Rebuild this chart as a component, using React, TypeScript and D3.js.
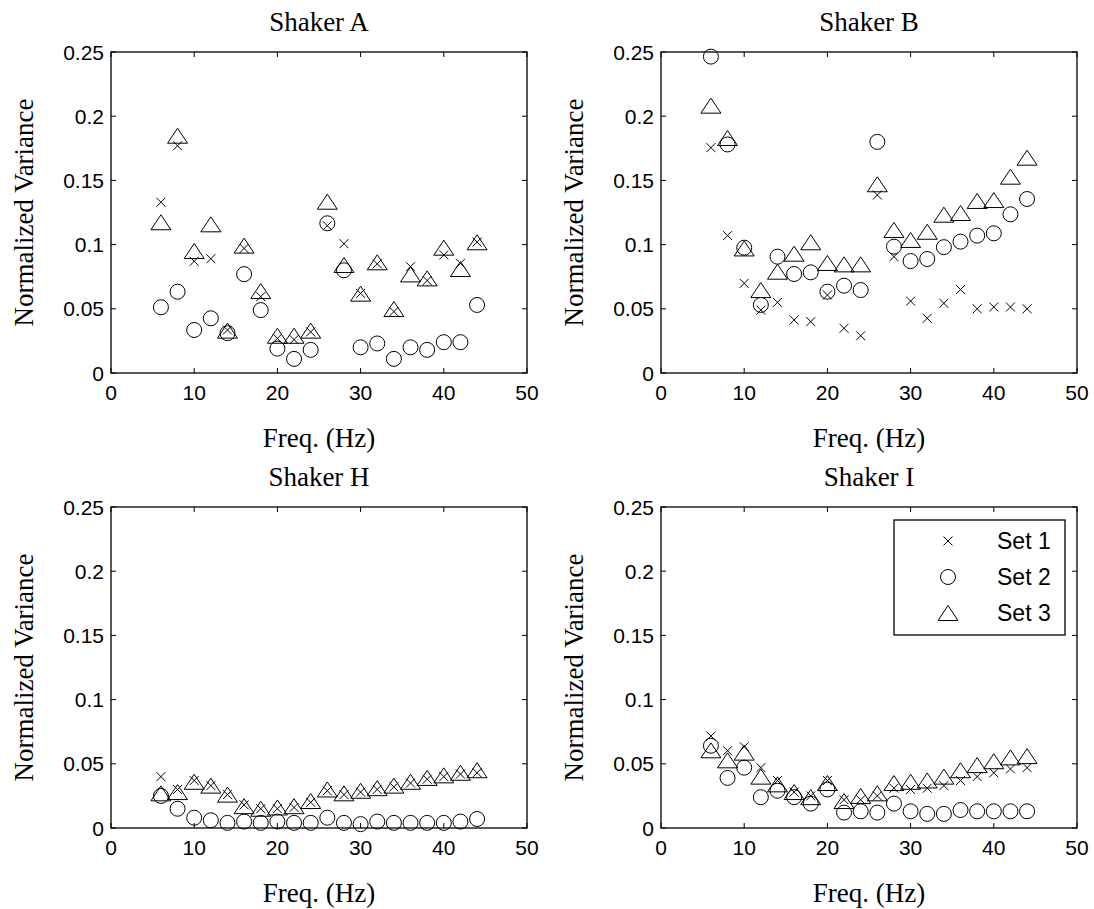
import React from "react";
import * as d3 from "d3";

const freqs = [6, 8, 10, 12, 14, 16, 18, 20, 22, 24, 26, 28, 30, 32, 34, 36, 38, 40, 42, 44];
const xTicks = [0, 10, 20, 30, 40, 50];
const yTicks = [0, 0.05, 0.1, 0.15, 0.2, 0.25];
const yTickLabels = ["0", "0.05", "0.1", "0.15", "0.2", "0.25"];
const seriesNames = ["Set 1", "Set 2", "Set 3"];

const aSet1 = [0.133, 0.177, 0.087, 0.089, 0.0335, 0.097, 0.0595, 0.027, 0.026, 0.032, 0.1147, 0.1007, 0.062, 0.085, 0.0478, 0.0828, 0.072, 0.0919, 0.0854, 0.102];
const aSet2 = [0.0512, 0.0633, 0.0335, 0.0426, 0.031, 0.077, 0.049, 0.019, 0.011, 0.018, 0.1166, 0.08, 0.02, 0.023, 0.011, 0.02, 0.018, 0.024, 0.024, 0.053];
const aSet3 = [0.1174, 0.1848, 0.095, 0.1158, 0.033, 0.0992, 0.0638, 0.029, 0.029, 0.033, 0.1334, 0.0841, 0.0618, 0.0862, 0.0498, 0.0768, 0.0737, 0.0976, 0.081, 0.1018];

const bSet1 = [0.1755, 0.107, 0.0698, 0.049, 0.055, 0.0413, 0.04, 0.0607, 0.0348, 0.029, 0.1386, 0.0906, 0.056, 0.0426, 0.0543, 0.065, 0.05, 0.0514, 0.0514, 0.05];
const bSet2 = [0.2464, 0.178, 0.0976, 0.053, 0.0906, 0.0771, 0.0784, 0.0633, 0.068, 0.0646, 0.18, 0.0984, 0.0872, 0.0888, 0.098, 0.1023, 0.107, 0.1088, 0.1236, 0.1355];
const bSet3 = [0.2082, 0.183, 0.097, 0.0646, 0.0789, 0.0929, 0.1018, 0.0857, 0.0846, 0.0846, 0.147, 0.1114, 0.1036, 0.11, 0.1233, 0.1246, 0.134, 0.1347, 0.1529, 0.1677];

const hSet1 = [0.04, 0.03, 0.037, 0.033, 0.026, 0.018, 0.015, 0.015, 0.016, 0.02, 0.029, 0.026, 0.028, 0.03, 0.032, 0.035, 0.038, 0.04, 0.042, 0.043];
const hSet2 = [0.025, 0.015, 0.008, 0.006, 0.004, 0.005, 0.004, 0.005, 0.004, 0.004, 0.008, 0.004, 0.003, 0.005, 0.004, 0.004, 0.004, 0.004, 0.005, 0.007];
const hSet3 = [0.027, 0.028, 0.036, 0.033, 0.026, 0.017, 0.015, 0.016, 0.017, 0.021, 0.03, 0.027, 0.029, 0.031, 0.033, 0.036, 0.039, 0.041, 0.043, 0.045];

const iSet1 = [0.0716, 0.0602, 0.0633, 0.047, 0.037, 0.028, 0.025, 0.037, 0.022, 0.022, 0.025, 0.031, 0.03, 0.031, 0.033, 0.037, 0.04, 0.043, 0.046, 0.047];
const iSet2 = [0.0641, 0.039, 0.047, 0.024, 0.029, 0.024, 0.019, 0.03, 0.012, 0.013, 0.012, 0.019, 0.013, 0.011, 0.011, 0.014, 0.013, 0.013, 0.013, 0.013];
const iSet3 = [0.0605, 0.0527, 0.0587, 0.04, 0.034, 0.028, 0.024, 0.035, 0.021, 0.025, 0.027, 0.035, 0.036, 0.037, 0.04, 0.045, 0.049, 0.052, 0.055, 0.056];

const panels = [
  { title: "Shaker A", s1: aSet1, s2: aSet2, s3: aSet3, legend: false },
  { title: "Shaker B", s1: bSet1, s2: bSet2, s3: bSet3, legend: false },
  { title: "Shaker H", s1: hSet1, s2: hSet2, s3: hSet3, legend: false },
  { title: "Shaker I", s1: iSet1, s2: iSet2, s3: iSet3, legend: true },
];

const W = 1094;
const H = 909;
const plotW = 416;
const plotH = 321;
const lefts = [111, 661];
const tops = [52, 507];
const serif = "'Liberation Serif', 'Times New Roman', serif";
const sans = "'Liberation Sans', Arial, sans-serif";

function XMark({ x, y }: { x: number; y: number }) {
  const s = 4.5;
  return (
    <path d={`M${x - s},${y - s}L${x + s},${y + s}M${x - s},${y + s}L${x + s},${y - s}`} stroke="#000" strokeWidth={1} fill="none" />
  );
}
function OMark({ x, y }: { x: number; y: number }) {
  return <circle cx={x} cy={y} r={7.5} stroke="#000" strokeWidth={1} fill="none" />;
}
function TMark({ x, y }: { x: number; y: number }) {
  const hw = 10;
  const hh = 7.5;
  return <path d={`M${x},${y - hh}L${x + hw},${y + hh}L${x - hw},${y + hh}Z`} stroke="#000" strokeWidth={1} fill="none" />;
}

function Panel({ idx }: { idx: number }) {
  const p = panels[idx];
  const left = lefts[idx % 2];
  const top = tops[Math.floor(idx / 2)];
  const x = d3.scaleLinear().domain([0, 50]).range([left, left + plotW]);
  const y = d3.scaleLinear().domain([0, 0.25]).range([top + plotH, top]);
  const tl = 5;
  const cx = left + plotW / 2;
  const cy = top + plotH / 2;
  return (
    <g>
      <text x={cx} y={top - 21} textAnchor="middle" fontFamily={serif} fontSize={27}>{p.title}</text>
      <text x={cx} y={top + plotH + 74} textAnchor="middle" fontFamily={serif} fontSize={27}>Freq. (Hz)</text>
      <text transform={`translate(${left - 78},${cy}) rotate(-90)`} textAnchor="middle" fontFamily={serif} fontSize={27}>Normalized Variance</text>
      {xTicks.map((t) => (
        <g key={"x" + t}>
          <line x1={x(t)} x2={x(t)} y1={top + plotH} y2={top + plotH - tl} stroke="#000" />
          <line x1={x(t)} x2={x(t)} y1={top} y2={top + tl} stroke="#000" />
          <text x={x(t)} y={top + plotH + 27} textAnchor="middle" fontFamily={sans} fontSize={21}>{t}</text>
        </g>
      ))}
      {yTicks.map((t, i) => (
        <g key={"y" + t}>
          <line x1={left} x2={left + tl} y1={y(t)} y2={y(t)} stroke="#000" />
          <line x1={left + plotW} x2={left + plotW - tl} y1={y(t)} y2={y(t)} stroke="#000" />
          <text x={left - 7} y={y(t)} dy="0.36em" textAnchor="end" fontFamily={sans} fontSize={21}>{yTickLabels[i]}</text>
        </g>
      ))}
      {freqs.map((f, i) => <XMark key={"s1" + i} x={x(f)} y={y(p.s1[i])} />)}
      {freqs.map((f, i) => <OMark key={"s2" + i} x={x(f)} y={y(p.s2[i])} />)}
      {freqs.map((f, i) => <TMark key={"s3" + i} x={x(f)} y={y(p.s3[i])} />)}
      <rect x={left} y={top} width={plotW} height={plotH} fill="none" stroke="#000" strokeWidth={1.3} />
      {p.legend && (
        <g>
          <rect x={894} y={top + 13} width={171} height={115} fill="#fff" stroke="#000" strokeWidth={1.3} />
          {seriesNames.map((n, k) => {
            const ly = top + 34 + k * 36;
            return (
              <g key={n}>
                {k === 0 && <XMark x={948} y={ly} />}
                {k === 1 && <OMark x={948} y={ly} />}
                {k === 2 && <TMark x={948} y={ly} />}
                <text x={997} y={ly} dy="0.36em" fontFamily={sans} fontSize={23}>{n}</text>
              </g>
            );
          })}
        </g>
      )}
    </g>
  );
}

export default function App() {
  return (
    <div style={{ position: "absolute", left: 0, top: 0 }}>
      <svg width={W} height={H} viewBox={`0 0 ${W} ${H}`} style={{ display: "block", background: "#fff" }}>
        <rect x={0} y={0} width={W} height={H} fill="#fff" />
        {panels.map((_, i) => <Panel key={i} idx={i} />)}
      </svg>
    </div>
  );
}
